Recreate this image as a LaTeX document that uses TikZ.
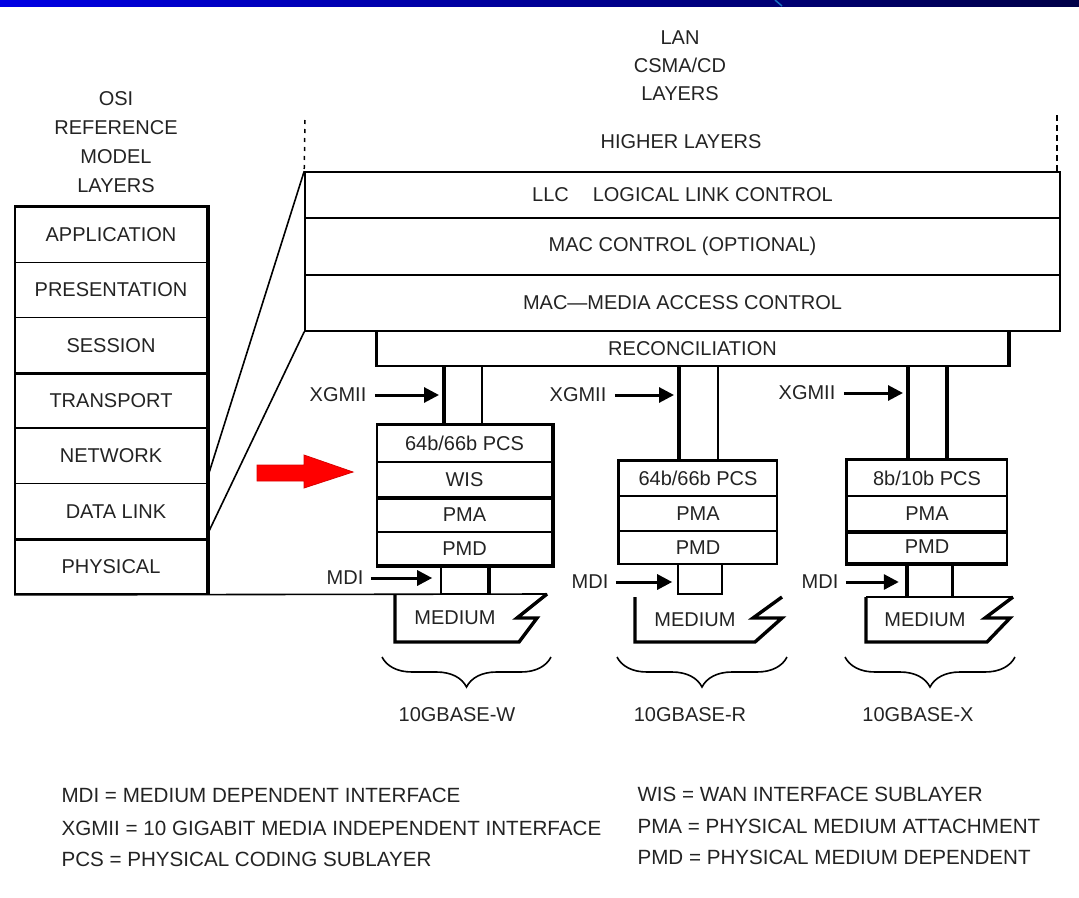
\documentclass[tikz,border=0pt]{standalone}
\usepackage{fontspec}
\setmainfont{Liberation Sans}
\usepackage{tikz}
\usetikzlibrary{arrows.meta}
\usetikzlibrary{decorations.pathreplacing}
\definecolor{barblue}{RGB}{0,0,228}
\definecolor{barnavy}{RGB}{0,0,72}
\definecolor{inkgray}{RGB}{35,35,35}

\begin{document}
\begin{tikzpicture}[x=1pt, y=-1pt,
    every node/.style={font=\fontsize{20}{24}\selectfont, text=inkgray},
    thinline/.style={line width=1.6pt},
    heavy/.style={line width=3.4pt},
    layer/.style={draw, thinline, inner sep=0pt},
    title/.style={align=center, font=\fontsize{20}{29}\selectfont},
    legend/.style={anchor=west, font=\fontsize{20.6}{24}\selectfont},
    busarrow/.style={line width=3pt, -{Triangle[length=15pt,width=15pt]}},
    dotline/.style={line width=1.5pt, dash pattern=on 4pt off 5pt},
    bracket/.style={thinline, decorate, decoration={brace, mirror, amplitude=30pt}}]
        \useasboundingbox (0,0) rectangle (1079,897);
        \shade[left color=barblue, right color=barnavy] (0,0) rectangle (1079,6);
        \draw[cyan!50!blue, line width=1.5pt] (775,0) -- (782,6);

        % OSI reference model
        \node[title] (osititle) at (116,142) {OSI\\REFERENCE\\MODEL\\LAYERS};
        \node[layer, minimum width=192pt, minimum height=55.3pt] (app) at (111,234.65) {APPLICATION};
        \node[layer, minimum width=192pt, minimum height=55.3pt] (pres) at (111,289.95) {PRESENTATION};
        \node[layer, minimum width=192pt, minimum height=55.3pt] (sess) at (111,345.25) {SESSION};
        \node[layer, minimum width=192pt, minimum height=55.3pt] (trans) at (111,400.55) {TRANSPORT};
        \node[layer, minimum width=192pt, minimum height=55.3pt] (net) at (111,455.85) {NETWORK};
        \node[layer, minimum width=192pt, minimum height=55.3pt] (dl) at (111,511.15) {\hspace{10pt}DATA LINK};
        \node[layer, minimum width=192pt, minimum height=55.3pt] (phys) at (111,566.45) {PHYSICAL};
        \draw[heavy] (app.north west) -- (app.north east) -- (phys.south east);
        \draw[heavy] (sess.south west) -- (sess.south east);
        \draw[heavy] (dl.south west) -- (dl.south east);

        % LAN CSMA/CD layers
        \node[title, font=\fontsize{20}{28}\selectfont] (lantitle) at (680,66) {LAN\\CSMA/CD\\LAYERS};
        \node (higher) at (681,142) {HIGHER LAYERS};
        \node[layer, minimum width=755pt, minimum height=46pt] (llc) at (682.5,195) {LLC\hspace{24pt}LOGICAL LINK CONTROL};
        \node[layer, minimum width=755pt, minimum height=57pt] (macctl) at (682.5,246.5) {MAC CONTROL (OPTIONAL)};
        \node[layer, minimum width=755pt, minimum height=56pt] (mac) at (682.5,303) {MAC\textemdash MEDIA ACCESS CONTROL};
        \node[layer, minimum width=631pt, minimum height=35pt] (recon) at (692.5,348.5) {RECONCILIATION};
        \draw[heavy] (recon.north west) -- (recon.south west);
        \draw[heavy] (recon.north east) -- (recon.south east);
        \coordinate (hlL) at (305,120);
        \coordinate (hlR) at (1057,115);
        \draw[dotline] (hlL) -- (llc.north west);
        \draw[dotline, line width=2.4pt, dash pattern=on 6pt off 4pt] (hlR) -- (hlR |- llc.north);
        \draw[thinline] (llc.north west) -- ([yshift=6pt]dl.north east);
        \draw[thinline] (mac.south west) -- ([yshift=6pt]dl.south east);

        % 10GBASE-W
        \node[layer, minimum width=175pt, minimum height=37pt] (pcsW) at (464.5,443.5) {64b/66b PCS};
        \node[layer, minimum width=175pt, minimum height=35pt] (wis) at (464.5,479.5) {WIS};
        \node[layer, minimum width=175pt, minimum height=35pt] (pmaW) at (464.5,514.5) {PMA};
        \node[layer, minimum width=175pt, minimum height=33pt] (pmdW) at (464.5,548.5) {PMD};
        \draw[heavy] (pcsW.north west) -- (pcsW.north east) -- (pmdW.south east) -- (pmdW.south west);
        \draw[heavy] (wis.south west) -- (wis.south east);
        \node[layer, minimum width=47pt, minimum height=29pt] (mdiW) at (464.5,579.5) {};
        \draw[heavy] (mdiW.north east) -- (mdiW.south east);

        % 10GBASE-R
        \node[layer, minimum width=158pt, minimum height=35pt] (pcsR) at (698,478.5) {64b/66b PCS};
        \node[layer, minimum width=158pt, minimum height=35pt] (pmaR) at (698,513.5) {PMA};
        \node[layer, minimum width=158pt, minimum height=33pt] (pmdR) at (698,547.5) {PMD};
        \draw[heavy] (pmdR.south west) -- (pcsR.north west) -- (pcsR.north east);
        \node[layer, minimum width=44pt, minimum height=30pt] (mdiR) at (700,579) {};

        % 10GBASE-X
        \node[layer, minimum width=160pt, minimum height=36pt] (pcsX) at (927,478) {8b/10b PCS};
        \node[layer, minimum width=160pt, minimum height=35pt] (pmaX) at (927,513.5) {PMA};
        \node[layer, minimum width=160pt, minimum height=32pt] (pmdX) at (927,547) {PMD};
        \draw[heavy] (pcsX.north east) -- (pcsX.north west) -- (pmdX.south west) -- (pmdX.south east);
        \draw[heavy] (pmaX.south west) -- (pmaX.south east);
        \node[inner sep=0pt, minimum width=45pt, minimum height=34pt] (mdiX) at (929.5,580) {};
        \draw[heavy] (mdiX.north west) -- (mdiX.south west);
        \draw[heavy] (mdiX.north east) -- (mdiX.south east);

        % XGMII buses
        \coordinate (wa) at (444,0);
        \coordinate (wb) at (482,0);
        \coordinate (ra) at (679,0);
        \coordinate (rb) at (718,0);
        \coordinate (xa) at (908,0);
        \coordinate (xb) at (947,0);
        \draw[heavy] (recon.south -| wa) -- (pcsW.north -| wa);
        \draw[thinline] (recon.south -| wb) -- (pcsW.north -| wb);
        \draw[heavy] (recon.south -| ra) -- (pcsR.north -| ra);
        \draw[thinline] (recon.south -| rb) -- (pcsR.north -| rb);
        \draw[heavy] (recon.south -| xa) -- (pcsX.north -| xa);
        \draw[heavy] (recon.south -| xb) -- (pcsX.north -| xb);
        \node (xgW) at (338,395) {XGMII};
        \node (xgR) at (578,395) {XGMII};
        \node (xgX) at (807,393) {XGMII};
        \draw[busarrow, shorten <=5pt, shorten >=5pt] (xgW.east) -- (xgW.east -| wa);
        \draw[busarrow, shorten <=5pt, shorten >=5pt] (xgR.east) -- (xgR.east -| ra);
        \draw[busarrow, shorten <=5pt, shorten >=5pt] (xgX.east) -- (xgX.east -| xa);

        % MDI
        \node (mdiLblW) at (345,578) {MDI};
        \node (mdiLblR) at (590,582) {MDI};
        \node (mdiLblX) at (820,582) {MDI};
        \draw[busarrow, shorten <=4pt, shorten >=8pt] (mdiLblW.east) -- (mdiLblW.east -| mdiW.west);
        \draw[busarrow, shorten <=4pt, shorten >=5pt] (mdiLblR.east) -- (mdiLblR.east -| mdiR.west);
        \draw[busarrow, shorten <=4pt, shorten >=8pt] (mdiLblX.east) -- (mdiLblX.east -| mdiX.west);

        % media
        \draw[thinline] (phys.south west) -- (547,594);
        \draw[heavy] (547,594) -- (517,618) -- (537,618) -- (519,642) -- (395,642) -- (395,594);
        \draw[heavy] (782,597) -- (753,618) -- (782,618) -- (755,642) -- (635,642) -- (635,597);
        \draw[thinline] (866,597) -- (1013,597);
        \draw[heavy] (1013,597) -- (985,618) -- (1010,618) -- (987,642) -- (866,642) -- (866,597);
        \node (medW) at (455,618) {MEDIUM};
        \node (medR) at (695,620) {MEDIUM};
        \node (medX) at (925,620) {MEDIUM};

        \draw[bracket] (382,657) -- (551,657);
        \draw[bracket] (617,657) -- (787,657);
        \draw[bracket] (845,657) -- (1015,657);
        \node (baseW) at (457,715) {10GBASE-W};
        \node (baseR) at (690,715) {10GBASE-R};
        \node (baseX) at (918,715) {10GBASE-X};

        % red pointer to WIS
        \fill[red, draw=red!85!black, line width=0.8pt] (257,465) -- (304,465) -- (304,455) -- (353,472) -- (304,488) -- (304,481) -- (257,481) -- cycle;

        % legend
        \node[legend] (lgMDI) at (58,795) {MDI = MEDIUM DEPENDENT INTERFACE};
        \node[legend] (lgXGMII) at (58,828) {XGMII = 10 GIGABIT MEDIA INDEPENDENT INTERFACE};
        \node[legend] (lgPCS) at (58,859) {PCS = PHYSICAL CODING SUBLAYER};
        \node[legend] (lgWIS) at (634,794) {WIS = WAN INTERFACE SUBLAYER};
        \node[legend] (lgPMA) at (634,826) {PMA = PHYSICAL MEDIUM ATTACHMENT};
        \node[legend] (lgPMD) at (634,857) {PMD = PHYSICAL MEDIUM DEPENDENT};
      \end{tikzpicture}
\end{document}
